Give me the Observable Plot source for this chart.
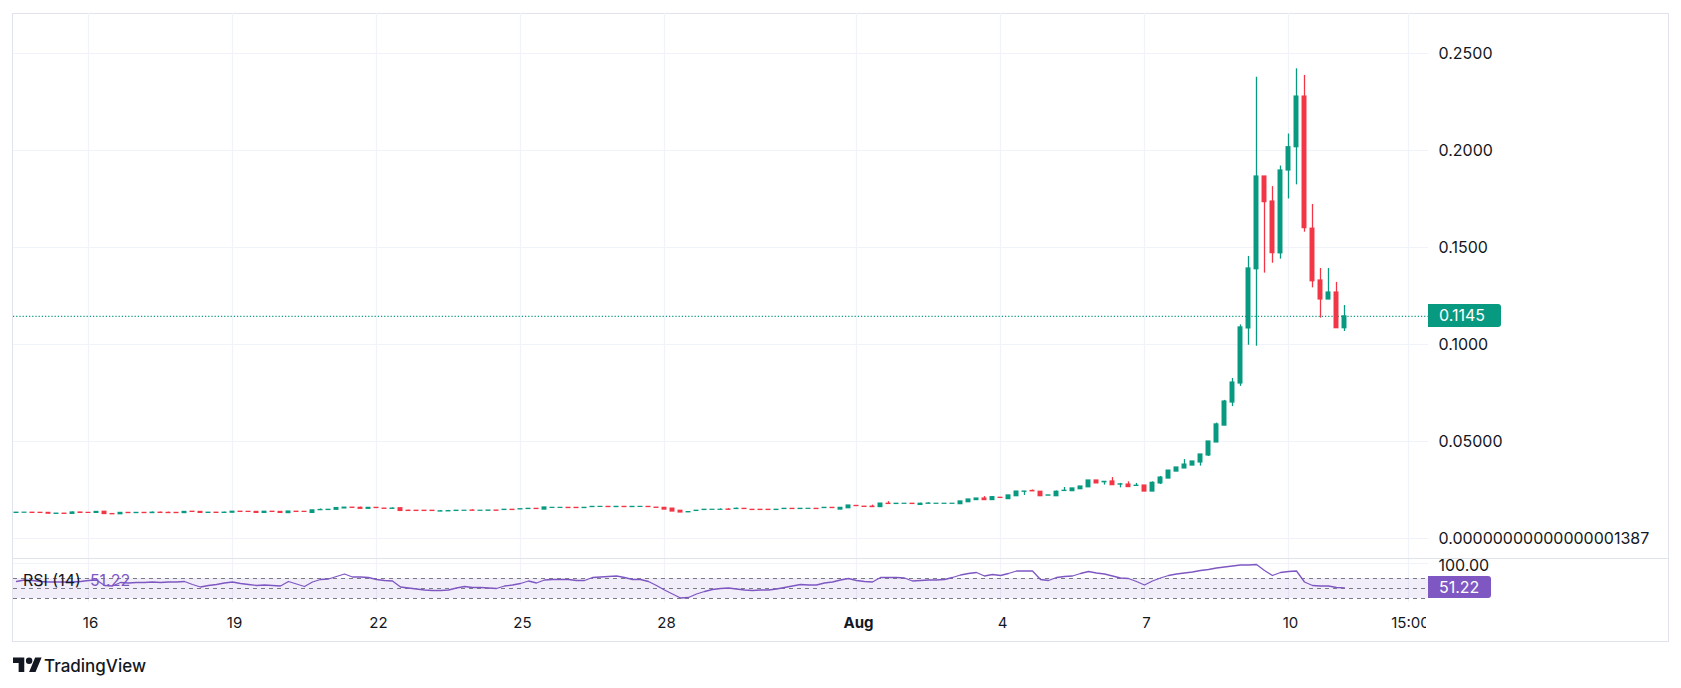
<!DOCTYPE html>
<html><head><meta charset="utf-8">
<script src="https://cdn.jsdelivr.net/npm/d3@7"></script>
<script src="https://cdn.jsdelivr.net/npm/@observablehq/plot@0.6"></script>
<style>
html,body{margin:0;padding:0;background:#fff;}
#wrap{position:relative;width:1681px;height:688px;overflow:hidden;font-family:Inter,"Noto Sans",sans-serif;color:#131722;}
.abs{position:absolute;}
#frame{left:12px;top:13px;width:1657px;height:629px;border:1px solid #e0e3eb;box-sizing:border-box;}
#sep{left:13px;top:557.5px;width:1655px;height:1.4px;background:#e0e3eb;}
.box{color:#fff;font-size:16px;line-height:23px;padding-left:11px;box-sizing:border-box;border-radius:0 3px 3px 0;}
</style>
</head><body>
<div id="wrap">
  <div id="frame" class="abs"></div>
</div>
<script>
// ---- data (4h candles, index 0 = Jul 14 12:00) ----
const opens = [.0132,.0133,.0133,.01325,.0132,.0127,.0128,.0127,.0134,.01322,.0132,.0138,.0126,.0125,.0132,.0131,.0132,.0131,.0133,.0132,
.0132,.0131,.0138,.0137,.0132,.0133,.0132,.0133,.0138,.01375,.0137,.0132,.0138,.0137,.0131,.0138,.01375,.0132,.0146,.0147,
.0148,.0155,.0159,.0158,.0153,.0158,.0154,.0153,.0156,.0143,.0143,.0143,.0143,.0139,.0140,.0142,.0143,.0144,.0143,.0143,
.0144,.0147,.0148,.0150,.0152,.0153,.0149,.0158,.0158,.0158,.0158,.0157,.0162,.0163,.0163,.0162,.0163,.0162,.0163,.0163,
.0159,.0158,.0154,.0143,.0135,.0142,.0147,.0148,.0148,.0149,.0152,.0153,.0148,.0148,.0148,.0147,.0152,.0153,.0152,.0153,
.0153,.0157,.0158,.0149,.0156,.0168,.0164,.0164,.0162,.0179,.0178,.0179,.0179,.0173,.0179,.0179,.0179,.0179,.0177,.0187,
.0198,.0206,.0198,.0210,.0203,.0218,.0241,.0245,.0241,.0221,.0218,.0245,.0244,.0254,.0264,.0299,.0290,.0294,.0278,.0278,
.0271,.0273,.0242,.0284,.0309,.0345,.0361,.0376,.0392,.0428,.0495,.0582,.0701,.0799,.1083,.1388,.1866,.1737,.1470,.1897,
.2017,.2278,.1597,.1330,.1232,.1268,.1084];
const highs = [.0133,.0133,.0133,.01325,.0133,.0128,.0128,.0137,.0134,.01322,.0137,.0138,.0126,.0132,.0132,.0132,.0132,.0137,.0136,.0136,
.0132,.0137,.0138,.0137,.0133,.0133,.0136,.0138,.0138,.01375,.0137,.0138,.0138,.0137,.0139,.0138,.01375,.0145,.0152,.0148,
.0157,.0159,.0159,.0162,.0158,.0158,.0154,.0158,.0156,.0146,.0143,.0143,.0143,.0144,.0145,.0143,.0143,.0148,.0143,.0144,
.0144,.0148,.0148,.0151,.0153,.0153,.0160,.0158,.0158,.0158,.0158,.0158,.0163,.0163,.0163,.0163,.0163,.0163,.0163,.0163,
.0159,.0158,.0154,.0143,.0136,.0143,.0148,.0148,.0153,.0154,.0157,.0153,.0148,.0148,.0148,.0148,.0153,.0153,.0153,.0153,
.0153,.0158,.0158,.0158,.0170,.0168,.0164,.0172,.0180,.0190,.0179,.0179,.0179,.0182,.0184,.0179,.0179,.0179,.0191,.0201,
.0206,.0216,.0216,.0210,.0222,.0242,.0242,.0250,.0241,.0222,.0245,.0263,.0258,.0268,.0299,.0299,.0292,.0314,.0284,.0292,
.0284,.0273,.0292,.0320,.0350,.0366,.0407,.0397,.0433,.0500,.0595,.0712,.0825,.1101,.1454,.2378,.1866,.1814,.1920,.2085,
.2421,.2387,.1722,.1392,.1392,.1320,.1201];
const lows = [.0132,.0133,.0132,.0132,.0127,.0127,.0127,.0127,.0132,.0132,.0132,.0125,.0125,.0125,.0131,.0131,.0131,.0131,.0132,.0131,
.0131,.0131,.0137,.0132,.0132,.0132,.0132,.0133,.0137,.0137,.0132,.0132,.0137,.0132,.0131,.0137,.0137,.0132,.0146,.0147,
.0148,.0155,.0158,.0153,.0153,.0157,.0153,.0153,.0142,.0142,.0142,.0142,.0142,.0139,.0140,.0142,.0143,.0143,.0143,.0143,
.0143,.0147,.0147,.0150,.0152,.0152,.0149,.0158,.0158,.0157,.0157,.0157,.0162,.0163,.0162,.0162,.0162,.0162,.0163,.0162,
.0158,.0149,.0139,.0134,.0135,.0142,.0147,.0148,.0148,.0148,.0152,.0152,.0147,.0147,.0147,.0147,.0152,.0152,.0152,.0153,
.0152,.0157,.0157,.0149,.0156,.0167,.0163,.0162,.0162,.0178,.0178,.0179,.0178,.0173,.0179,.0179,.0179,.0179,.0177,.0187,
.0198,.0198,.0198,.0209,.0203,.0218,.0222,.0243,.0218,.0221,.0218,.0245,.0244,.0254,.0264,.0284,.0275,.0275,.0261,.0265,
.0271,.0242,.0242,.0278,.0309,.0345,.0361,.0376,.0373,.0423,.0495,.0582,.0680,.0784,.0996,.0991,.1368,.1419,.1440,.1750,
.1823,.1579,.1292,.1136,.1232,.1084,.1067];
const closes = [.0133,.0133,.0132,.0132,.0128,.0128,.0127,.0134,.0132,.0132,.0137,.0126,.0125,.0132,.0131,.0132,.0131,.0133,.0132,.0131,
.0131,.0137,.0137,.0132,.0133,.0132,.0133,.0138,.0137,.0137,.0132,.0138,.0137,.0132,.0139,.0137,.0137,.0145,.0147,.0148,
.0157,.0159,.0158,.0153,.0158,.0157,.0153,.0154,.0142,.0142,.0142,.0142,.0142,.0140,.0141,.0143,.0143,.0143,.0143,.0144,
.0143,.0148,.0147,.0151,.0153,.0152,.0160,.0158,.0158,.0157,.0157,.0158,.0163,.0163,.0162,.0163,.0162,.0163,.0163,.0162,
.0158,.0149,.0139,.0134,.0136,.0143,.0148,.0148,.0148,.0148,.0153,.0152,.0147,.0147,.0147,.0148,.0153,.0152,.0153,.0153,
.0152,.0158,.0157,.0158,.0170,.0167,.0163,.0162,.0180,.0178,.0179,.0179,.0178,.0179,.0180,.0179,.0179,.0179,.0191,.0201,
.0206,.0198,.0213,.0209,.0222,.0242,.0242,.0243,.0218,.0222,.0241,.0246,.0258,.0268,.0299,.0284,.0292,.0275,.0279,.0265,
.0272,.0242,.0287,.0314,.0350,.0366,.0381,.0397,.0433,.0500,.0588,.0706,.0804,.1088,.1392,.1866,.1734,.1471,.1897,.2017,
.2278,.1600,.1326,.1232,.1268,.1084,.1145];
const rsi = [64,67,66,64,63,63,63,63,64,66,67,56,55,62,61,62,62,63,62,63,
63,64,58,53,56,58,61,63,60,58,56,57,56,55,64,59,54,63,68,69,
74,79,73,73,72,68,66,65,53,51,49,47,46,46,47,51,54,52,52,51,
50,55,57,60,65,61,67,68,68,68,66,66,72,73,74,75,72,68,68,64,
56,47,39,31,32,39,44,48,50,51,49,47,46,47,47,49,52,55,58,57,
57,61,63,67,70,66,64,63,72,72,72,71,65,66,67,67,68,72,77,80,
82,75,78,76,80,85,85,85,68,66,72,74,75,80,84,81,79,75,71,70,
64,57,65,71,76,79,81,83,86,88,91,93,95,97,97,98,86,76,82,84,
85,63,56,55,55,52,51.22];
const priceTicks = [0, 0.05, 0.10, 0.15, 0.20, 0.25];
const priceLabels = ["0.00000000000000001387", "0.05000", "0.1000", "0.1500", "0.2000", "0.2500"];
const timeTicks = [9, 27, 45, 63, 81, 105, 123, 141, 159, 174];
const timeLabels = ["16", "19", "22", "25", "28", "Aug", "4", "7", "10", "15:00"];
const lastPrice = 0.1145;
const lastRsi = 51.22;
const rsiBands = [70, 50, 30];

// ---- styling ----
const GREEN = "#089981", RED = "#F23645", PURPLE = "#7E57C2", GRID = "#f0f3fa", TXT = "#131722";
const FONT = "Inter, 'Noto Sans', sans-serif";
const XDOM = [-0.375, 176.5];
const wrap = document.getElementById("wrap");
function place(el, left, top) { el.style.position = "absolute"; el.style.left = left + "px"; el.style.top = top + "px"; el.style.overflow = "hidden"; wrap.appendChild(el); return el; }

const candles = closes.map((c, i) => ({i, o: opens[i], h: highs[i], l: lows[i], c}));
const col = d => d.c >= d.o ? GREEN : RED;

const main = Plot.plot({
  width: 1681, height: 558, marginTop: 13, marginBottom: 0, marginLeft: 13, marginRight: 253,
  x: {domain: XDOM, axis: null},
  y: {domain: [-0.01031, 0.27062], axis: null},
  style: {fontFamily: FONT, fontSize: "16px", background: "transparent", color: TXT},
  marks: [
    Plot.ruleY(priceTicks, {stroke: GRID, strokeWidth: 1.2}),
    Plot.ruleX(timeTicks, {stroke: GRID, strokeWidth: 1.2}),
    Plot.ruleY([lastPrice], {stroke: GREEN, strokeDasharray: "1.2,2", strokeWidth: 1.1}),
    Plot.ruleX(candles, {x: "i", y1: "l", y2: "h", stroke: col, strokeWidth: 1.3}),
    Plot.rect(candles, {x1: d => d.i - 0.31, x2: d => d.i + 0.31, y1: "o", y2: "c", fill: col, insetTop: -0.6, insetBottom: -0.6}),
    Plot.text(priceTicks, {y: d => d, text: (d, i) => priceLabels[i], frameAnchor: "right", dx: 10, textAnchor: "start", fill: TXT, fontSize: 16})
  ]
});
place(main, 0, 0);

const rsiPlot = Plot.plot({
  width: 1681, height: 44, marginTop: 0, marginBottom: 0, marginLeft: 13, marginRight: 253,
  x: {domain: XDOM, axis: null},
  y: {domain: [22, 110], axis: null},
  style: {fontFamily: FONT, fontSize: "16px", background: "transparent", color: TXT},
  marks: [
    Plot.ruleY([100], {stroke: GRID, strokeWidth: 1.2}),
    Plot.ruleX(timeTicks, {stroke: GRID, strokeWidth: 1.2}),
    Plot.rect([{x1: XDOM[0], x2: XDOM[1], y1: rsiBands[2], y2: rsiBands[0]}], {x1: "x1", x2: "x2", y1: "y1", y2: "y2", fill: PURPLE, fillOpacity: 0.1}),
    Plot.ruleY(rsiBands, {stroke: "#787b86", strokeDasharray: "4,4", strokeWidth: 1}),
    Plot.line(rsi, {x: (d, i) => i, y: d => d, stroke: PURPLE, strokeWidth: 1.3}),
    Plot.text([100], {y: d => d, text: () => "100.00", frameAnchor: "right", dx: 10, dy: 2, textAnchor: "start", fill: TXT, fontSize: 16})
  ]
});
place(rsiPlot, 0, 558);

const regular = timeTicks.map((t, i) => ({t, s: timeLabels[i]})).filter(d => d.s !== "Aug");
const bold = timeTicks.map((t, i) => ({t, s: timeLabels[i]})).filter(d => d.s === "Aug");
const axisPlot = Plot.plot({
  width: 1428, height: 38, marginTop: 0, marginBottom: 0, marginLeft: 13, marginRight: 0,
  x: {domain: XDOM, axis: null},
  y: {domain: [0, 1], axis: null},
  style: {fontFamily: FONT, fontSize: "15px", background: "transparent", color: TXT},
  marks: [
    Plot.text(regular, {x: "t", text: "s", frameAnchor: "top", dy: 21, lineAnchor: "middle", fill: TXT, fontSize: 15}),
    Plot.text(bold, {x: "t", text: "s", frameAnchor: "top", dy: 21, lineAnchor: "middle", fill: TXT, fontSize: 15, fontWeight: "bold"})
  ]
});
place(axisPlot, 2, 602);
axisPlot.style.clipPath = "inset(0 4px 0 0)";

// separator between panes
const sep = document.createElement("div"); sep.id = "sep"; sep.className = "abs"; wrap.appendChild(sep);

// last price label box
const yMain = main.scale("y");
const pb = document.createElement("div"); pb.className = "box abs"; pb.textContent = lastPrice.toFixed(4);
pb.style.background = GREEN; pb.style.width = "73px"; pb.style.height = "23px";
place(pb, 1428, yMain.apply(lastPrice) - 11.5);

// RSI legend + value box
const yR = rsiPlot.scale("y");
const rb = document.createElement("div"); rb.className = "box abs"; rb.textContent = lastRsi.toFixed(2);
rb.style.background = PURPLE; rb.style.width = "63px"; rb.style.height = "22px"; rb.style.lineHeight = "22px";
place(rb, 1428, 558 + yR.apply(lastRsi) - 11);

const leg = document.createElement("div");
leg.innerHTML = `<span style="color:${TXT}">RSI (14)</span><span style="color:${PURPLE};margin-left:9px">${lastRsi.toFixed(2)}</span>`;
leg.style.fontSize = "16px"; leg.style.lineHeight = "20px"; leg.style.whiteSpace = "nowrap";
place(leg, 23, 570);

// footer logo
const foot = document.createElement("div");
foot.innerHTML = `<svg width="29" height="23" viewBox="0 0 36 28" style="vertical-align:middle"><path fill="${TXT}" d="M14 22H7V11H0V4h14v18zM28 22h-8l7.5-18h8L28 22z"/><circle fill="${TXT}" cx="20" cy="8" r="4"/></svg><span style="font-size:17px;font-weight:500;margin-left:2px;vertical-align:middle;color:${TXT}">TradingView</span>`;
foot.style.whiteSpace = "nowrap";
place(foot, 13, 654);
</script>
</body></html>
